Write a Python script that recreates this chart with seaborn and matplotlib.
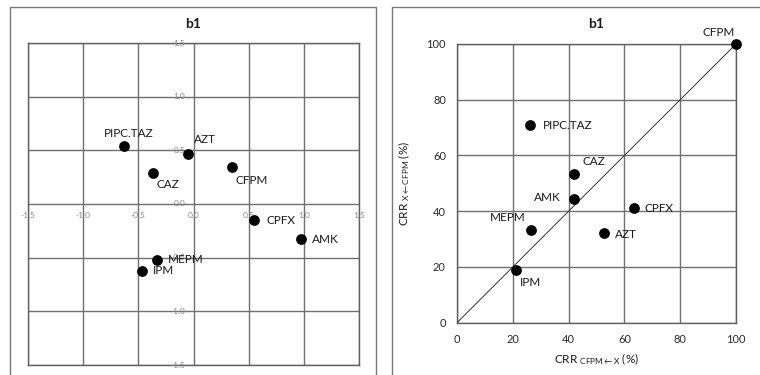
import matplotlib
matplotlib.use("Agg")
import matplotlib.pyplot as plt
import seaborn as sns
import pandas as pd
import numpy as np
from matplotlib.patches import Rectangle

# ---------------- data ----------------
drugs = ["PIPC.TAZ", "AZT", "CAZ", "CFPM", "CPFX", "AMK", "MEPM", "IPM"]
map_x = [-0.63, -0.05, -0.37, 0.35, 0.55, 0.97, -0.33, -0.47]
map_y = [0.54, 0.47, 0.29, 0.345, -0.145, -0.33, -0.52, -0.62]
crr_cfpm_from_x = [26.3, 52.7, 42.1, 100.0, 63.3, 42.1, 26.4, 21.0]
crr_x_from_cfpm = [71.0, 32.1, 53.2, 100.0, 41.3, 44.3, 33.3, 18.9]
map_ticks = [-1.5, -1.0, -0.5, 0.0, 0.5, 1.0, 1.5]
crr_ticks = [0, 20, 40, 60, 80, 100]
title = "b1"

# label offsets (pixels) and alignment for each panel
left_off = {"PIPC.TAZ": (5, 13, "center"), "AZT": (17, 14, "center"),
            "CAZ": (15, -12, "center"), "CFPM": (20, -14, "center"),
            "CPFX": (12, -1, "left"), "AMK": (11, 0, "left"),
            "MEPM": (11, 0, "left"), "IPM": (11, 0, "left")}
right_off = {"PIPC.TAZ": (12, -1, "left"), "AZT": (11, -1, "left"),
             "CAZ": (19, 13, "center"), "CFPM": (-17, 12, "center"),
             "CPFX": (11, -1, "left"), "AMK": (-14, 2, "right"),
             "MEPM": (-23, 12, "center"), "IPM": (15, -12, "center")}

df = pd.DataFrame({"drug": drugs, "mx": map_x, "my": map_y,
                   "cx": crr_cfpm_from_x, "cy": crr_x_from_cfpm})

sns.set_style("white")
plt.rcParams["font.family"] = ["Lato", "DejaVu Sans"]
plt.rcParams["mathtext.fontset"] = "custom"
plt.rcParams["mathtext.rm"] = "Lato"
plt.rcParams["mathtext.it"] = "Lato"

W, H = 760, 375
fig = plt.figure(figsize=(7.6, 3.75), dpi=100)


def fa(x0, y0, x1, y1):
    return [x0 / W, (H - y1) / H, (x1 - x0) / W, (y1 - y0) / H]


# outer frames
for (x0, x1) in [(10, 376), (392, 775)]:
    fig.patches.append(Rectangle((x0 / W, -0.1), (x1 - x0) / W, (H - 7) / H + 0.1,
                                 transform=fig.transFigure, fill=False,
                                 edgecolor="#7a7a7a", linewidth=1.0, zorder=0))

GRID = "#707070"
SPINE = "#606060"
TXT = "#1a1a1a"

# ---------------- left panel ----------------
axL = fig.add_axes(fa(28, 43, 359, 365))
axL.set_xlim(-1.5, 1.5)
axL.set_ylim(-1.5, 1.5)
axL.set_xticks(map_ticks)
axL.set_yticks(map_ticks)
axL.grid(True, color=GRID, linewidth=1.0)
axL.tick_params(length=0, labelbottom=False, labelleft=False)
for s in axL.spines.values():
    s.set_color(SPINE)
    s.set_linewidth(1.0)
sns.scatterplot(data=df, x="mx", y="my", ax=axL, color="black", s=60,
                edgecolor="black", linewidth=0, zorder=5, legend=False)
axL.set_xlabel("")
axL.set_ylabel("")
for t in map_ticks:
    axL.annotate(f"{t:.1f}", (t, 0), xytext=(0, -11), textcoords="offset pixels",
                 ha="center", va="center", fontsize=6, color="#8a8a8a", zorder=3)
    axL.annotate(f"{t:.1f}", (0, t), xytext=(-8, 0), textcoords="offset pixels",
                 ha="right", va="center", fontsize=6, color="#8a8a8a", zorder=3)
for d, x, y in zip(drugs, map_x, map_y):
    dx, dy, ha = left_off[d]
    axL.annotate(d, (x, y), xytext=(dx, dy), textcoords="offset pixels",
                 ha=ha, va="center", fontsize=8.5, color=TXT, zorder=6)
fig.text((10 + 376) / 2 / W, (H - 24) / H, title, ha="center", va="center",
         fontsize=10, fontweight="bold", color=TXT)

# ---------------- right panel ----------------
axR = fig.add_axes(fa(457, 44, 736, 322.7))
axR.set_xlim(0, 100)
axR.set_ylim(0, 100)
axR.set_xticks(crr_ticks)
axR.set_yticks(crr_ticks)
axR.grid(True, color=GRID, linewidth=1.0)
for s in axR.spines.values():
    s.set_color(SPINE)
    s.set_linewidth(1.0)
axR.tick_params(length=0, labelsize=8, labelcolor="#2a2a2a", pad=8)
axR.plot([0, 100], [0, 100], color="#333333", linewidth=0.7, zorder=3)
sns.scatterplot(data=df, x="cx", y="cy", ax=axR, color="black", s=60,
                edgecolor="black", linewidth=0, zorder=5, legend=False, clip_on=False)
axR.set_xlabel(r"CRR $_{\mathregular{CFPM\leftarrow X}}$ (%)", fontsize=8.5,
               color=TXT, labelpad=5)
axR.set_ylabel(r"CRR $_{\mathregular{X\leftarrow CFPM}}$ (%)", fontsize=8.5,
               color=TXT, labelpad=10)
for d, x, y in zip(drugs, crr_cfpm_from_x, crr_x_from_cfpm):
    dx, dy, ha = right_off[d]
    axR.annotate(d, (x, y), xytext=(dx, dy), textcoords="offset pixels",
                 ha=ha, va="center", fontsize=8.5, color=TXT, zorder=6)
fig.text((457 + 736) / 2 / W, (H - 24) / H, title, ha="center", va="center",
         fontsize=10, fontweight="bold", color=TXT)

fig.savefig("out.png", dpi=100)
